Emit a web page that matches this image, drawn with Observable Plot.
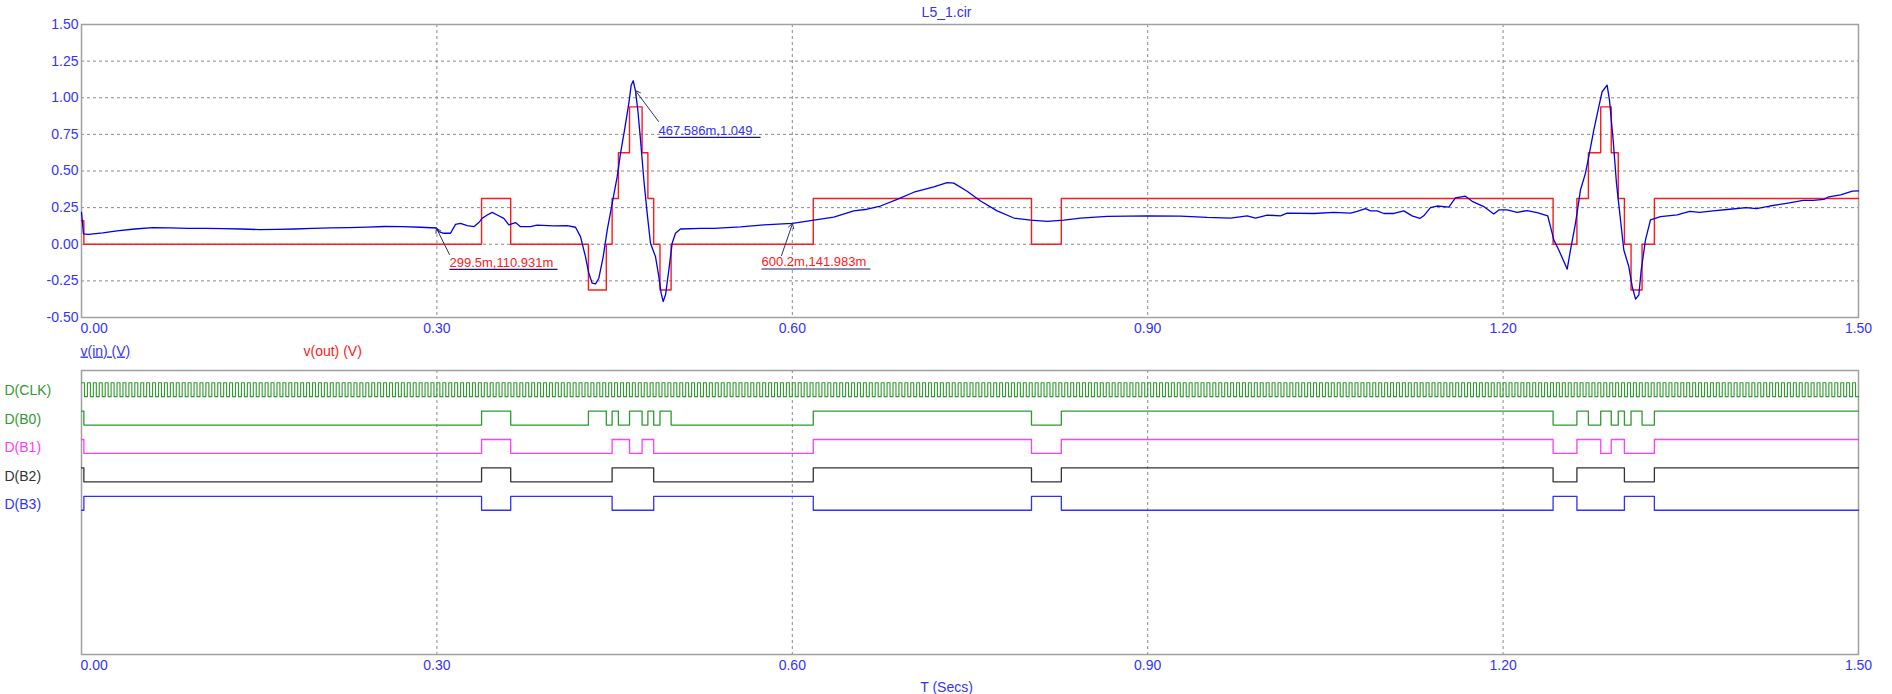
<!DOCTYPE html>
<html><head><meta charset="utf-8">
<script src="https://cdn.jsdelivr.net/npm/d3@7"></script>
<script src="https://cdn.jsdelivr.net/npm/@observablehq/plot@0.6"></script>
<style>
html,body{margin:0;padding:0;background:#fff;}
#chart{position:relative;width:1892px;height:694px;overflow:hidden;}
#top,#bottom{position:absolute;left:0;}
#top{top:0}
#bottom{top:360px}
</style></head><body>
<div id="chart"><div id="top"></div><div id="bottom"></div></div>
<script>
// ---------- data ----------
const title = "L5_1.cir";
const xTicks = [0, 0.3, 0.6, 0.9, 1.2, 1.5];
const yTicks = [-0.5, -0.25, 0, 0.25, 0.5, 0.75, 1, 1.25, 1.5];
const xGrid = [0.3, 0.6, 0.9, 1.2];
const yGrid = [-0.25, 0, 0.25, 0.5, 0.75, 1, 1.25];

// v(in): sampled trace
const blueT = [0.000,0.0017,0.006,0.018,0.030,0.045,0.060,0.075,0.090,0.105,0.120,0.135,0.150,0.165,0.180,0.195,0.210,0.226,0.241,0.256,0.271,0.2862,0.2995,0.3016,0.3058,0.3115,0.3157,0.3199,0.3256,0.3312,0.3354,0.3382,0.3425,0.3467,0.3509,0.3565,0.3607,0.3663,0.3706,0.3790,0.3847,0.3987,0.4100,0.4170,0.4212,0.4254,0.4282,0.4311,0.4339,0.4367,0.4404,0.4438,0.4480,0.4522,0.4550,0.4584,0.4620,0.4640,0.4657,0.4676,0.4696,0.4719,0.4747,0.4775,0.4803,0.4845,0.4873,0.4893,0.4910,0.4930,0.4958,0.4986,0.5014,0.5056,0.5225,0.5338,0.5563,0.5760,0.5957,0.6002,0.6182,0.6350,0.6519,0.6632,0.6744,0.6885,0.7026,0.7195,0.7307,0.7363,0.7476,0.7589,0.7729,0.7870,0.8011,0.8152,0.8292,0.8433,0.8658,0.8996,0.9277,0.9502,0.9699,0.9840,0.9910,1.0009,1.0121,1.0177,1.0402,1.0571,1.0712,1.0768,1.0838,1.0881,1.0937,1.0993,1.1078,1.1162,1.1232,1.1297,1.1330,1.1387,1.1443,1.1542,1.1598,1.1682,1.1739,1.1837,1.1921,1.1964,1.2034,1.2118,1.2203,1.2287,1.2377,1.2400,1.2428,1.2470,1.2513,1.2541,1.2569,1.2611,1.2653,1.2695,1.2723,1.2766,1.2808,1.2836,1.2878,1.2898,1.2929,1.2957,1.2991,1.3019,1.3061,1.3090,1.3118,1.3146,1.3166,1.3202,1.3244,1.3329,1.3470,1.3575,1.3660,1.3772,1.3913,1.4054,1.4138,1.4251,1.4392,1.4533,1.4617,1.4707,1.4750,1.4849,1.4948,1.5000];
const blueV = [0.217,0.071,0.068,0.078,0.092,0.104,0.114,0.112,0.109,0.109,0.106,0.104,0.100,0.101,0.104,0.108,0.112,0.114,0.117,0.121,0.120,0.116,0.111,0.086,0.075,0.075,0.136,0.143,0.127,0.120,0.148,0.177,0.200,0.218,0.200,0.177,0.132,0.148,0.120,0.120,0.130,0.125,0.127,0.116,0.052,-0.084,-0.198,-0.266,-0.270,-0.232,-0.084,0.098,0.280,0.461,0.620,0.780,0.961,1.086,1.116,1.049,0.916,0.711,0.439,0.211,0.007,-0.084,-0.220,-0.334,-0.391,-0.345,-0.175,0.007,0.075,0.104,0.108,0.109,0.118,0.132,0.141,0.142,0.165,0.185,0.228,0.239,0.261,0.306,0.355,0.391,0.420,0.417,0.362,0.295,0.228,0.179,0.165,0.156,0.165,0.179,0.190,0.194,0.192,0.183,0.179,0.194,0.179,0.199,0.194,0.212,0.210,0.217,0.212,0.225,0.243,0.228,0.228,0.210,0.210,0.228,0.194,0.176,0.194,0.250,0.261,0.254,0.317,0.328,0.293,0.257,0.207,0.234,0.234,0.218,0.230,0.216,0.193,0.120,0.030,-0.039,-0.118,-0.170,-0.039,0.143,0.370,0.484,0.598,0.780,0.939,1.041,1.086,0.984,0.711,0.416,0.166,-0.039,-0.152,-0.289,-0.375,-0.345,-0.175,0.030,0.166,0.189,0.200,0.225,0.217,0.228,0.239,0.250,0.243,0.261,0.279,0.299,0.299,0.306,0.324,0.337,0.362,0.364];

// v(out): step segments (start time, level) and the digital bits per segment
const stepT    = [0,0.002,0.3377,0.3623,0.4279,0.4430,0.4479,0.4532,0.4626,0.4732,0.4781,0.4830,0.4883,0.4977,0.6177,0.8019,0.8271,1.2422,1.2623,1.2720,1.2824,1.2913,1.2972,1.3024,1.3080,1.3173,1.3277];
const redLevel = [0.16,0,0.3125,0,-0.3125,0,0.3125,0.625,0.9375,0.625,0.3125,0,-0.3125,0,0.3125,0,0.3125,0,0.3125,0.625,0.9375,0.625,0.3125,0,-0.3125,0,0.3125];
const bitB0 = [1,0,1,0,1,0,1,0,1,0,1,0,1,0,1,0,1,0,1,0,1,0,1,0,1,0,1];
const bitB1 = [1,0,1,0,0,0,1,1,0,1,1,0,0,0,1,0,1,0,1,1,0,1,1,0,0,0,1];
const bitB2 = [1,0,1,0,0,0,1,1,1,1,1,0,0,0,1,0,1,0,1,1,1,1,1,0,0,0,1];
const bitB3 = [0,1,0,1,1,1,0,0,0,0,0,1,1,1,0,1,0,1,0,0,0,0,0,1,1,1,0];
const clockPeriod = 0.005;   // seconds, 50% duty
const tEnd = 1.5;

const rowNames  = ["D(CLK)", "D(B0)", "D(B1)", "D(B2)", "D(B3)"];
const rowColors = ["#2f9a2f", "#2f9a2f", "#ff3cff", "#333333", "#3030ff"];

const annotations = [
  {t: 0.2995,   v: 0.110931, label: "299.5m,110.931m", color: "#ff2020", lt: 0.3106, lv: -0.070, bt: 0.3106, bv: -0.152, ut: 0.4018, uv: -0.172},
  {t: 0.467586, v: 1.049,    label: "467.586m,1.049",  color: "#3030ff", lt: 0.4871, lv: 0.838,  bt: 0.4871, bv: 0.749,  ut: 0.5732, uv: 0.729},
  {t: 0.6002,   v: 0.141983, label: "600.2m,141.983m", color: "#ff2020", lt: 0.5909, lv: -0.077, bt: 0.5740, bv: -0.1485, ut: 0.6660, uv: -0.169}
];

// ---------- tables built from the arrays ----------
const blue = blueT.map((t, i) => ({t, v: blueV[i]}));
const red = stepT.map((t, i) => ({t, v: redLevel[i]})).concat([{t: tEnd, v: redLevel[redLevel.length - 1]}]);
const bitsByRow = [null, bitB0, bitB1, bitB2, bitB3];
const rowY = (k, b) => k + 0.92 - 0.49 * b;
const clk = [];
for (let k = 0; k * clockPeriod < tEnd - 1e-9; k++) {
  clk.push({t: k * clockPeriod, y: rowY(0, 1)});
  clk.push({t: k * clockPeriod + clockPeriod / 2, y: rowY(0, 0)});
}
clk.push({t: tEnd, y: rowY(0, 0)});
const rowLines = [1, 2, 3, 4].map(k => {
  const bits = bitsByRow[k];
  const d = stepT.map((t, i) => ({t, y: rowY(k, bits[i])}));
  d.push({t: tEnd, y: rowY(k, bits[bits.length - 1])});
  return d;
});

const BLUE_TXT = "#3333ff";
const FONT = "'Liberation Sans', Arial, sans-serif";
const fmt = d => d.toFixed(2);
const CENTER_DX = -23.5; // centre on the window rather than on the frame

// ---------- top panel ----------
const topPlot = Plot.plot({
  width: 1892, height: 360,
  marginLeft: 81, marginRight: 34, marginTop: 24, marginBottom: 43,
  style: {fontFamily: FONT, fontSize: "14px", background: "#fff", overflow: "visible"},
  x: {domain: [0, 1.5], label: null},
  y: {domain: [-0.5, 1.5], label: null},
  marks: [
    Plot.ruleY(yGrid, {stroke: "#8a8a8a", strokeDasharray: "3,3", strokeWidth: 1}),
    Plot.ruleX(xGrid, {stroke: "#8a8a8a", strokeDasharray: "3,3", strokeWidth: 1}),
    Plot.frame({stroke: "#a0a0a0", strokeWidth: 1.5}),
    Plot.line(red, {x: "t", y: "v", curve: "step-after", stroke: "#ff1a1a", strokeWidth: 1.4}),
    Plot.line(blue, {x: "t", y: "v", stroke: "#0000ee", strokeWidth: 1.3}),
    Plot.axisY(yTicks, {tickSize: 0, tickPadding: 3, tickFormat: fmt, fill: BLUE_TXT, fontSize: 14, label: null}),
    Plot.axisX(xTicks.slice(1), {tickSize: 0, tickPadding: 6, tickFormat: fmt, fill: BLUE_TXT, fontSize: 14, label: null}),
    Plot.axisX(xTicks.slice(0, 1), {tickSize: 0, tickPadding: 6, tickFormat: fmt, fill: BLUE_TXT, fontSize: 14, textAnchor: "start", dx: -1, label: null}),
    // annotations
    Plot.arrow(annotations, {x1: "lt", y1: "lv", x2: "t", y2: "v", stroke: "#30305a", strokeWidth: 1, headLength: 8, bend: 0}),
    Plot.link(annotations, {x1: "bt", y1: "uv", x2: "ut", y2: "uv", stroke: "#1c1c6a", strokeWidth: 1.2}),
    Plot.text(annotations, {x: "bt", y: "bv", text: "label", fill: "color", textAnchor: "start", lineAnchor: "bottom", fontSize: 13}),
    // title and legend
    Plot.text([title], {frameAnchor: "top", dx: CENTER_DX, dy: -8, lineAnchor: "bottom", fill: BLUE_TXT, fontSize: 14}),
    Plot.text(["v(in) (V)"], {frameAnchor: "bottom-left", dx: -1, dy: 38, textAnchor: "start", lineAnchor: "bottom", fill: BLUE_TXT, fontSize: 14}),
    Plot.text(["v(out) (V)"], {frameAnchor: "bottom-left", dx: 222, dy: 38, textAnchor: "start", lineAnchor: "bottom", fill: "#ff2020", fontSize: 14})
  ]
});
d3.select(topPlot).selectAll("text").filter(function() { return this.textContent === "v(in) (V)"; })
  .style("text-decoration", "underline");
document.getElementById("top").appendChild(topPlot);

// ---------- bottom (digital) panel ----------
const bottomMarks = [
  Plot.ruleX(xGrid, {stroke: "#8a8a8a", strokeDasharray: "3,3", strokeWidth: 1}),
  Plot.frame({stroke: "#a0a0a0", strokeWidth: 1.5}),
  Plot.line(clk, {x: "t", y: "y", curve: "step-after", stroke: rowColors[0], strokeWidth: 1.1})
];
rowLines.forEach((d, i) => bottomMarks.push(
  Plot.line(d, {x: "t", y: "y", curve: "step-after", stroke: rowColors[i + 1], strokeWidth: 1.3})
));
bottomMarks.push(
  Plot.text(rowNames.map((n, k) => ({n, k, y: k + 0.72, c: rowColors[k]})),
    {frameAnchor: "left", y: "y", text: "n", fill: "c", dx: -77, textAnchor: "start", fontSize: 14}),
  Plot.axisX(xTicks.slice(1), {tickSize: 0, tickPadding: 6, tickFormat: fmt, fill: BLUE_TXT, fontSize: 14, label: null}),
  Plot.axisX(xTicks.slice(0, 1), {tickSize: 0, tickPadding: 6, tickFormat: fmt, fill: BLUE_TXT, fontSize: 14, textAnchor: "start", dx: -1, label: null}),
  Plot.text(["T (Secs)"], {frameAnchor: "bottom", dx: CENTER_DX, dy: 37, lineAnchor: "bottom", fill: BLUE_TXT, fontSize: 14})
);
const bottomPlot = Plot.plot({
  width: 1892, height: 334,
  marginLeft: 81, marginRight: 34, marginTop: 10, marginBottom: 40,
  style: {fontFamily: FONT, fontSize: "14px", background: "#fff", overflow: "visible"},
  x: {domain: [0, 1.5], label: null},
  y: {domain: [0, 10], reverse: true, axis: null, label: null},
  color: {type: "identity"},
  marks: bottomMarks
});
document.getElementById("bottom").appendChild(bottomPlot);
</script>
</body></html>
